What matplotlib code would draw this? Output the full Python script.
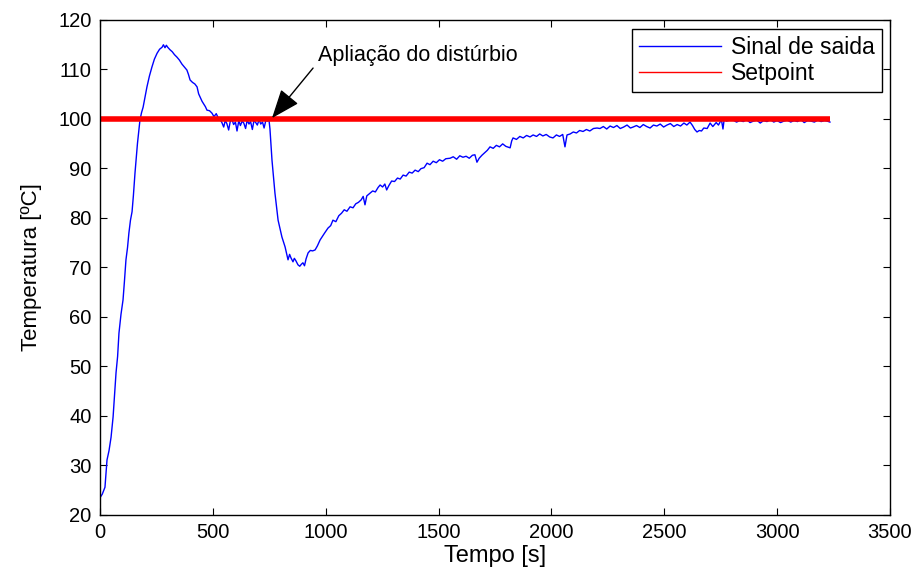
import matplotlib
matplotlib.use("Agg")
import matplotlib.pyplot as plt
from matplotlib.lines import Line2D

plt.rcParams['font.family'] = ['Liberation Sans', 'DejaVu Sans']

# ---- data ----
time_s = [0, 10, 22, 31, 40, 49, 58, 65, 71, 78, 84, 93, 102, 108, 115, 122, 128, 135, 142, 148,
          155, 166, 177, 184, 191, 200, 208, 219, 230, 241, 253, 264, 275, 281, 288, 294, 300, 310,
          320, 330, 341, 352, 363, 374, 385, 392, 399, 410, 420, 430, 437, 443, 452, 460, 467, 474,
          485, 496, 505, 515, 523, 532,
          540, 548, 555, 562, 570, 577, 585, 592, 600, 607, 615, 622, 630, 637, 645, 652, 660, 667,
          675, 682, 690, 697, 705, 712, 720, 727, 735, 742, 748, 753,
          762, 775, 789, 806, 820, 833, 840, 846, 855, 861, 868, 877, 885, 892, 899, 906, 913, 922,
          932, 942, 953, 963, 975, 985, 995, 1010,
          1022, 1032, 1045, 1058, 1070, 1082, 1094, 1108, 1121, 1133, 1145, 1157, 1166, 1174, 1182,
          1195, 1208, 1220, 1232, 1241, 1252, 1262, 1270, 1280, 1292, 1305, 1318, 1330, 1343, 1356,
          1370, 1383, 1396, 1410, 1422, 1436, 1449, 1462, 1476, 1490, 1504, 1518, 1532, 1551, 1565,
          1580, 1594, 1608, 1622, 1636, 1650, 1661, 1670, 1680, 1692, 1704, 1716, 1728, 1742, 1756,
          1770, 1784, 1798, 1817, 1824, 1830, 1845, 1860, 1875, 1890, 1905, 1919, 1934, 1948, 1962,
          1977, 1992, 2007, 2022, 2036, 2050, 2060, 2069, 2083, 2097, 2111, 2125, 2140, 2155, 2170,
          2186, 2202,
          2215, 2230, 2245, 2260, 2275, 2290, 2305, 2320, 2335, 2350, 2362, 2377, 2392, 2407, 2422,
          2437, 2452, 2467, 2482, 2497, 2512, 2527, 2542, 2557, 2572, 2587, 2600, 2614, 2625, 2635,
          2645, 2655, 2665, 2675, 2690, 2703, 2715, 2730, 2740, 2747, 2753, 2760, 2766, 2775, 2790,
          2805, 2820, 2835, 2850, 2865, 2880, 2895, 2910, 2925, 2940, 2955, 2970, 2985, 3000, 3015,
          3030, 3045, 3060, 3075, 3090, 3105, 3120, 3135, 3150, 3165, 3180, 3195, 3210, 3221, 3234]

sinal_saida = [23.5, 24.2, 25.6, 31.1, 33.0, 35.7, 39.8, 44.5, 48.7, 52.0, 56.7, 60.5, 63.4, 67.0,
               71.5, 74.0, 76.9, 79.5, 81.2, 84.5, 89.0, 95.0, 99.7, 101.2, 102.3, 104.5, 106.4,
               108.6, 110.4, 112.0, 113.2, 114.0, 114.4, 114.9, 114.3, 114.8, 114.4, 113.9, 113.5,
               112.9, 112.4, 111.8, 111.0, 110.4, 109.8, 108.9, 107.8, 107.3, 107.0, 106.4, 105.0,
               104.4, 103.5, 102.9, 102.4, 101.7, 101.6, 101.1, 100.4, 101.0, 100.2, 99.8,
               99.2, 98.3, 99.6, 99.0, 97.7, 99.4, 99.8, 98.8, 99.3, 97.5, 99.6, 98.6, 99.5, 99.1,
               98.0, 99.7, 98.9, 99.4, 97.8, 99.6, 99.2, 98.7, 99.8, 98.9, 99.3, 98.1, 99.7, 99.5,
               100.0, 97.9,
               91.6, 85.0, 79.5, 76.1, 74.1, 71.5, 72.6, 71.9, 71.1, 71.8, 71.3, 70.5, 70.2, 70.6,
               70.9, 70.3, 71.7, 72.9, 73.4, 73.3, 73.5, 74.3, 75.5, 76.2, 76.9, 77.9,
               78.4, 79.5, 79.2, 80.4, 80.9, 81.6, 81.3, 82.2, 82.0, 82.8, 83.1, 83.6, 84.3, 82.6,
               84.4, 84.9, 85.4, 85.2, 86.1, 86.6, 86.2, 86.8, 85.6, 86.5, 87.4, 87.3, 88.0, 87.8,
               88.6, 88.4, 89.2, 89.0, 89.6, 89.3, 89.9, 90.1, 91.0, 90.7, 91.4, 91.1, 91.7, 91.4,
               91.9, 92.0, 92.3, 91.8, 92.5, 92.2, 92.4, 92.0, 92.6, 92.7, 91.2, 92.0, 92.6, 93.1,
               93.6, 94.3, 94.0, 94.6, 94.3, 94.9, 94.4, 94.1, 95.5, 96.1, 95.8, 96.4, 96.1, 96.6,
               96.3, 96.7, 96.4, 96.9, 96.5, 96.8, 96.3, 96.1, 96.7, 96.4, 96.8, 94.3, 96.7, 96.9,
               97.3, 97.1, 97.6, 97.4, 97.8, 97.5, 98.0, 98.1,
               98.0, 98.4, 97.9, 98.5, 98.2, 98.6, 98.0, 98.3, 98.7, 98.1, 98.3, 98.6, 98.2, 98.8,
               98.4, 98.1, 98.7, 98.5, 98.9, 98.3, 98.7, 99.0, 98.4, 98.8, 98.5, 99.1, 98.7, 99.3,
               98.6, 97.8, 97.3, 97.6, 97.5, 98.1, 98.0, 99.1, 98.4, 99.2, 98.7, 99.3, 99.8, 97.9,
               100.1, 99.5, 99.7, 99.7, 99.3, 99.6, 99.4, 99.8, 99.2, 99.5, 99.7, 99.1, 99.6, 99.4,
               99.8, 99.3, 99.6, 99.2, 99.5, 99.7, 99.3, 99.6, 99.4, 99.8, 99.2, 99.6, 99.5, 99.3,
               99.7, 99.4, 99.6, 99.5, 99.3]

setpoint_value = 100
setpoint = [setpoint_value] * len(time_s)

x_ticks = [0, 500, 1000, 1500, 2000, 2500, 3000, 3500]
y_ticks = [20, 30, 40, 50, 60, 70, 80, 90, 100, 110, 120]

disturbance_t = 762
disturbance_T = 100.1
annot_text_xy = (966, 112.8)
annot_tail_xy = (944, 110.2)

# ---- figure ----
fig = plt.figure(figsize=(9.2, 5.72), dpi=100)
ax = fig.add_axes([100 / 920, 1 - 515 / 572, 790 / 920, 495.5 / 572])

ax.plot(time_s, sinal_saida, color=(0, 0, 1), lw=1.0, label='Sinal de saida')
ax.plot(time_s, setpoint, color=(1, 0, 0), lw=4.0, label='Setpoint', solid_capstyle='butt')

ax.set_xlim(0, 3500)
ax.set_ylim(20, 120)
ax.set_xticks(x_ticks)
ax.set_yticks(y_ticks)
ax.tick_params(direction='in', length=5, width=0.8, top=True, right=True,
               labelsize=14.5, pad=6, colors='black')
for sp in ax.spines.values():
    sp.set_linewidth(1.0)

ax.set_xlabel('Tempo [s]', fontsize=17, labelpad=2)
ax.set_ylabel('Temperatura [ºC]', fontsize=16, labelpad=12)

# annotation
ax.annotate('', xy=(disturbance_t, disturbance_T), xytext=annot_tail_xy,
            arrowprops=dict(arrowstyle='-|>,head_length=0.9,head_width=0.35',
                            mutation_scale=20, color='black', lw=1.0,
                            shrinkA=0, shrinkB=0))
ax.text(annot_text_xy[0], annot_text_xy[1], 'Apliação do distúrbio',
        fontsize=15.5, ha='left', va='center')

handles = [Line2D([], [], color=(0, 0, 1), lw=1.0),
           Line2D([], [], color=(1, 0, 0), lw=1.0)]
leg = ax.legend(handles, ['Sinal de saida', 'Setpoint'], loc='upper right',
                bbox_to_anchor=(0.990, 0.981), borderaxespad=0, fontsize=16.5,
                fancybox=False, framealpha=1, edgecolor='black',
                handlelength=3.6, handletextpad=0.45, labelspacing=0.15,
                borderpad=0.3)
leg.get_frame().set_linewidth(1.0)

fig.savefig('out.png', dpi=100)
